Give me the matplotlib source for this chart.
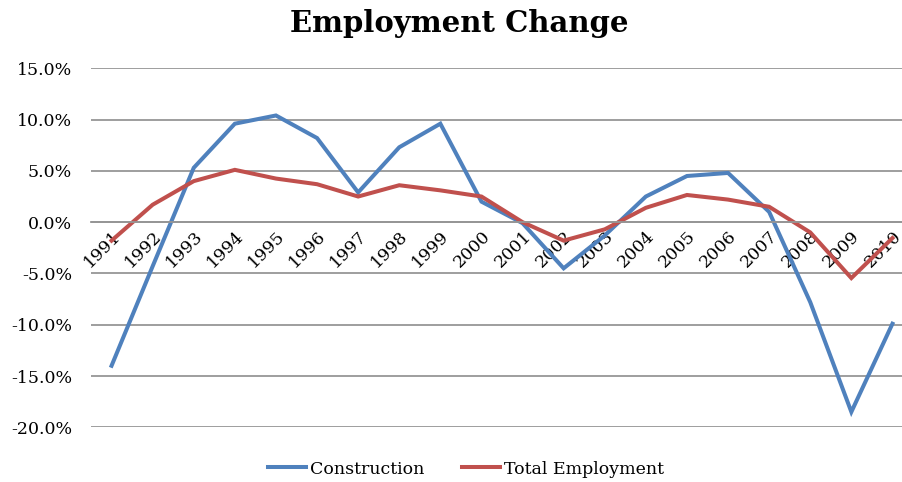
import numpy as np
import matplotlib.pyplot as plt
from matplotlib.ticker import FuncFormatter

years = [str(y) for y in range(1991, 2011)]
construction = [-14.0, -4.3, 5.3, 9.6, 10.4, 8.2, 2.9, 7.3, 9.6, 2.0,
                -0.1, -4.5, -1.3, 2.5, 4.5, 4.8, 1.0, -7.8, -18.5, -9.9]
total_employment = [-1.8, 1.7, 4.0, 5.1, 4.25, 3.7, 2.5, 3.6, 3.1, 2.5,
                    0.0, -1.8, -0.7, 1.4, 2.65, 2.2, 1.5, -1.0, -5.45, -1.55]

plt.rcParams['font.family'] = 'DejaVu Serif'

fig = plt.figure(figsize=(9.03, 4.82), dpi=100)
W, H = 903, 482
ax = fig.add_axes([91 / W, (H - 427.3) / H, 822 / W, (427.3 - 68.3) / H])

x = np.arange(len(years))
ax.plot(x, construction, color='#4F81BD', lw=2.9, label='Construction',
        solid_joinstyle='miter')
ax.plot(x, total_employment, color='#C0504D', lw=2.9, label='Total Employment',
        solid_joinstyle='miter')

ax.set_xlim(-0.5, len(years) - 0.5)
ax.set_ylim(-20, 15)
ax.set_yticks(np.arange(-20, 16, 5))
ax.yaxis.set_major_formatter(FuncFormatter(lambda v, p: '%.1f%%' % v))
ax.grid(axis='y', color='#969696', lw=1.3)
ax.set_axisbelow(True)

for s in ['top', 'right', 'left']:
    ax.spines[s].set_visible(False)
ax.spines['bottom'].set_position(('data', 0))
ax.spines['bottom'].set_color('#969696')
ax.spines['bottom'].set_linewidth(1.3)

ax.set_xticks(x)
ax.set_xticklabels(years, rotation=45, ha='right', rotation_mode='anchor')
ax.tick_params(axis='x', length=0, pad=4, labelsize=12.5)
ax.tick_params(axis='y', length=0, pad=13.5, labelsize=12.5)

fig.text(459 / W, (H - 24) / H, 'Employment Change', ha='center', va='center',
         fontsize=21, fontweight='bold')

fig.legend(loc='center', bbox_to_anchor=(466 / W, (H - 469) / H), ncol=2,
           frameon=False, fontsize=12.5, handlelength=2.2, handletextpad=0.2,
           columnspacing=2.2)

fig.savefig('out.png', dpi=100)
